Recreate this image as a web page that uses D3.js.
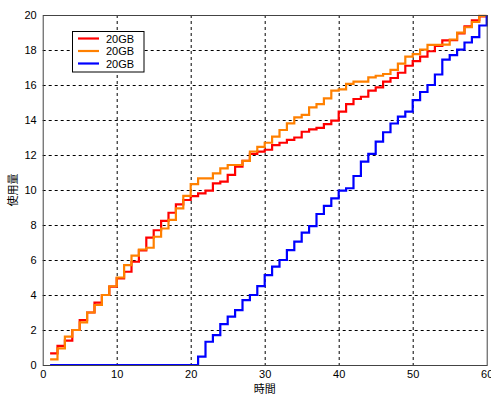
<!DOCTYPE html>
<html>
<head>
<meta charset="utf-8">
<script src="https://cdn.jsdelivr.net/npm/d3@7"></script>
<style>
  body { margin: 0; background: #fff; }
  svg { display: block; }
  .tick text { font-family: Arial, "Liberation Sans", sans-serif; font-size: 11px; fill: #000; }
</style>
</head>
<body>
<script>
// step data, one value per time step t = 1..60
var times = d3.range(1, 61)

var redVals = [0.67, 1.09, 1.39, 2.0, 2.57, 3.0, 3.56, 4.0, 4.48, 4.95,
  5.33, 5.9, 6.55, 7.28, 7.7, 8.24, 8.7, 9.18, 9.43, 9.65,
  9.81, 9.96, 10.38, 10.48, 10.86, 11.33, 11.66, 12.06, 12.19, 12.3,
  12.57, 12.7, 12.86, 13.0, 13.33, 13.47, 13.55, 13.77, 13.96, 14.48,
  14.91, 15.2, 15.33, 15.68, 15.87, 16.19, 16.4, 16.7, 17.1, 17.36,
  17.62, 17.93, 18.23, 18.55, 18.57, 18.95, 19.35, 19.7, 19.92, 20.0]

var orangeVals = [0.32, 0.95, 1.62, 2.0, 2.44, 3.0, 3.43, 4.0, 4.5, 5.0,
  5.71, 6.25, 6.6, 6.7, 7.33, 7.8, 8.29, 8.95, 9.66, 10.34,
  10.67, 10.67, 10.95, 11.24, 11.43, 11.43, 11.66, 12.2, 12.47, 12.7,
  13.05, 13.43, 13.81, 14.15, 14.29, 14.72, 14.91, 15.24, 15.68, 15.75,
  16.06, 16.19, 16.19, 16.44, 16.53, 16.63, 16.86, 17.22, 17.62, 17.76,
  18.02, 18.29, 18.29, 18.31, 18.6, 18.99, 19.3, 19.6, 19.95, 20.0]

var blueVals = [0, 0, 0, 0, 0, 0, 0, 0, 0, 0,
  0, 0, 0, 0, 0, 0, 0, 0, 0, 0,
  0.48, 1.33, 1.71, 2.34, 2.76, 3.14, 3.71, 4.0, 4.51, 5.14,
  5.62, 6.0, 6.57, 7.05, 7.57, 7.94, 8.63, 9.09, 9.52, 9.96,
  10.1, 10.8, 11.62, 12.06, 12.76, 13.3, 13.8, 14.19, 14.48, 15.14,
  15.6, 16.0, 16.6, 17.45, 17.71, 18.02, 18.43, 18.74, 19.4, 20.0]

var seriesNames = ["20GB", "20GB", "20GB"]
var seriesColors = ["#ff0000", "#ff8000", "#0000ff"]
var xTicks = [0, 10, 20, 30, 40, 50, 60]
var yTicks = [0, 2, 4, 6, 8, 10, 12, 14, 16, 18, 20]
var xLabel = "時間"
var yLabel = "使用量"

var svgWidth = 491, svgHeight = 397
var margin = {top: 15, right: 4.3, bottom: 32, left: 42.7}
var gWidth = svgWidth - margin.left - margin.right
var gHeight = svgHeight - margin.top - margin.bottom

var svg = d3.select("body").append("svg")
  .attr("width", svgWidth)
  .attr("height", svgHeight)

var g = svg.append("g")
  .attr("transform", "translate(" + margin.left + "," + margin.top + ")")

var xScale = d3.scaleLinear().domain([0, 60]).range([0, gWidth])
var yScale = d3.scaleLinear().domain([0, 20]).range([gHeight, 0])

// grid
g.append("g").selectAll("line")
  .data(xTicks.slice(1, -1))
  .enter().append("line")
  .attr("x1", function(d) { return Math.round(xScale(d)) + 0.5 })
  .attr("x2", function(d) { return Math.round(xScale(d)) + 0.5 })
  .attr("y1", 0).attr("y2", gHeight)
  .attr("stroke", "#000").attr("stroke-width", 1)
  .attr("stroke-dasharray", "3,3")

g.append("g").selectAll("line")
  .data(yTicks.slice(1, -1))
  .enter().append("line")
  .attr("y1", function(d) { return Math.round(yScale(d)) + 0.5 })
  .attr("y2", function(d) { return Math.round(yScale(d)) + 0.5 })
  .attr("x1", 0).attr("x2", gWidth)
  .attr("stroke", "#000").attr("stroke-width", 1)
  .attr("stroke-dasharray", "3,3")

// axes
var xAxis = d3.axisBottom(xScale).tickValues(xTicks).tickSize(0).tickPadding(5)
var yAxis = d3.axisLeft(yScale).tickValues(yTicks).tickSize(0).tickPadding(6)

g.append("g")
  .attr("transform", "translate(0," + gHeight + ")")
  .call(xAxis)
  .call(function(s) { s.select(".domain").remove() })

g.append("g")
  .call(yAxis)
  .call(function(s) { s.select(".domain").remove() })

// lines
var allVals = [redVals, orangeVals, blueVals]
var line = d3.line()
  .x(function(d) { return xScale(d[0]) })
  .y(function(d) { return yScale(d[1]) })
  .curve(d3.curveStepAfter)

allVals.forEach(function(vals, i) {
  g.append("path")
    .datum(times.map(function(t, j) { return [t, vals[j]] }))
    .attr("fill", "none")
    .attr("stroke", seriesColors[i])
    .attr("stroke-width", 2.2)
    .attr("d", line)
})

// box
g.append("rect")
  .attr("x", 0.5).attr("y", 0.5)
  .attr("width", gWidth).attr("height", gHeight)
  .attr("fill", "none").attr("stroke", "#444").attr("stroke-width", 1)

// legend
var legend = svg.append("g").attr("transform", "translate(72.5,31.5)")
legend.append("rect")
  .attr("width", 71.5).attr("height", 40.5)
  .attr("fill", "#fff").attr("stroke", "#000").attr("stroke-width", 1)

seriesNames.forEach(function(name, i) {
  var yy = 7 + i * 12.5
  legend.append("line")
    .attr("x1", 5.5).attr("x2", 26.5)
    .attr("y1", yy).attr("y2", yy)
    .attr("stroke", seriesColors[i]).attr("stroke-width", 2.2)
  legend.append("text")
    .attr("x", 33.5).attr("y", yy + 4)
    .attr("font-family", "Arial, 'Liberation Sans', sans-serif")
    .attr("font-size", "11px")
    .text(name)
})

// labels
svg.append("text")
  .attr("x", margin.left + gWidth / 2)
  .attr("y", 393)
  .attr("text-anchor", "middle")
  .attr("font-family", "'Noto Sans CJK JP', sans-serif")
  .attr("font-size", "11px")
  .text(xLabel)

svg.append("text")
  .attr("transform", "translate(17," + (margin.top + gHeight / 2) + ") rotate(-90)")
  .attr("text-anchor", "middle")
  .attr("font-family", "'Noto Sans CJK JP', sans-serif")
  .attr("font-size", "11px")
  .text(yLabel)
</script>
</body>
</html>
